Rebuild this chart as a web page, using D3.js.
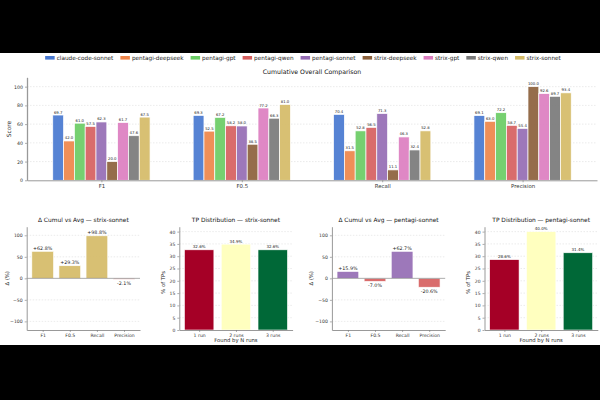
<!DOCTYPE html>
<html>
<head>
<meta charset="utf-8">
<script src="https://cdn.jsdelivr.net/npm/d3@7/dist/d3.min.js"></script>
<style>
  body { margin: 0; background: #000; }
  svg { display: block; }
  text { font-family: "DejaVu Sans", sans-serif; }
</style>
</head>
<body>
<div id="chart"></div>
<script>
// data
const models = ["claude-code-sonnet", "pentagi-deepseek", "pentagi-gpt", "pentagi-qwen",
  "pentagi-sonnet", "strix-deepseek", "strix-gpt", "strix-qwen", "strix-sonnet"];
const modelColors = ["#4878d0", "#ee854a", "#6acc64", "#d65f5f", "#956cb4",
  "#8c613c", "#dc7ec0", "#797979", "#d5bb67"];
const metrics = ["F1", "F0.5", "Recall", "Precision"];
const f1 = [69.7, 42.0, 61.0, 57.5, 62.3, 20.0, 61.7, 47.6, 67.5];
const f05 = [69.3, 52.5, 67.2, 58.2, 58.0, 38.5, 77.2, 66.3, 81.0];
const recall = [70.4, 31.5, 52.8, 56.5, 71.3, 11.1, 46.3, 32.4, 52.8];
const precision = [69.1, 63.0, 72.2, 58.7, 55.4, 100.0, 92.6, 89.7, 93.4];
const scoreTicks = [0, 20, 40, 60, 80, 100];

const deltaStrix = [62.8, 29.3, 98.8, -2.1];
const deltaPentagi = [15.9, -7.0, 62.7, -20.6];
const deltaTicks = [-100, -50, 0, 50, 100];

const runLabels = ["1 run", "2 runs", "3 runs"];
const tpStrix = [32.6, 34.9, 32.6];
const tpPentagi = [28.6, 40.0, 31.4];
const tpColors = ["#a50026", "#ffffbf", "#006837"];
const tpTicks = [0, 5, 10, 15, 20, 25, 30, 35, 40];

const svg = d3.select("#chart").append("svg")
  .attr("width", 600)
  .attr("height", 400);

svg.append("rect").attr("width", 600).attr("height", 400).attr("fill", "#000");
svg.append("rect").attr("y", 53).attr("width", 600).attr("height", 292).attr("fill", "#fff");

function styleAxis(g, size) {
  g.select(".domain").attr("stroke", "#999").attr("stroke-width", 1);
  g.selectAll(".tick line").attr("stroke", "#777").attr("stroke-width", 0.6);
  g.selectAll(".tick text").attr("fill", "#333").style("font-size", size + "px");
}

// ---- main grouped bar chart ----
const scores = [f1, f05, recall, precision];
const x0 = d3.scaleLinear().domain([-0.53, 3.53]).range([27, 597]);
const x1 = d3.scaleBand().domain(models).range([-0.3465, 0.3465]);
const y = d3.scaleLinear().domain([0, 110]).range([180.3, 77.3]);
const bw = x0(x1.bandwidth()) - x0(0);

svg.append("g").selectAll("line")
  .data(scoreTicks.slice(1))
  .enter().append("line")
  .attr("x1", 27).attr("x2", 597)
  .attr("y1", d => y(d)).attr("y2", d => y(d))
  .attr("stroke", "#ddd").attr("stroke-width", 0.6)
  .attr("stroke-dasharray", "1.5,1.5");

const groups = svg.append("g").selectAll("g")
  .data(scores)
  .enter().append("g");

groups.selectAll("rect")
  .data((vals, i) => vals.map((v, j) => ({ i, j, v })))
  .enter().append("rect")
  .attr("x", d => x0(d.i + x1(models[d.j])))
  .attr("y", d => y(d.v))
  .attr("width", bw)
  .attr("height", d => y(0) - y(d.v))
  .attr("fill", d => modelColors[d.j])
  .attr("fill-opacity", 0.92)
  .attr("stroke", "#fff")
  .attr("stroke-width", 0.7);

groups.selectAll("text")
  .data((vals, i) => vals.map((v, j) => ({ i, j, v })))
  .enter().append("text")
  .attr("x", d => x0(d.i + x1(models[d.j])) + bw / 2)
  .attr("y", d => y(d.v) - 1.5)
  .attr("text-anchor", "middle")
  .attr("fill", "#222")
  .style("font-size", "3.8px")
  .text(d => d.v.toFixed(1));

svg.append("g")
  .attr("transform", "translate(27,0)")
  .call(d3.axisLeft(y).tickValues(scoreTicks).tickSize(2).tickPadding(2).tickSizeOuter(0))
  .call(g => styleAxis(g, 4.7))
  .call(g => g.select(".domain").attr("stroke-width", 1.3));

svg.append("g")
  .attr("transform", "translate(0,180.3)")
  .call(d3.axisBottom(x0).tickValues([0, 1, 2, 3]).tickFormat(i => metrics[i])
    .tickSize(2).tickPadding(1.5).tickSizeOuter(0))
  .call(g => styleAxis(g, 5.4));

svg.append("text")
  .attr("transform", "translate(11,129) rotate(-90)")
  .attr("text-anchor", "middle")
  .attr("fill", "#222")
  .style("font-size", "5.8px")
  .text("Score");

svg.append("text")
  .attr("x", 312).attr("y", 73.5)
  .attr("text-anchor", "middle")
  .attr("fill", "#111")
  .style("font-size", "6.2px")
  .text("Cumulative Overall Comparison");

// legend
const legend = svg.append("g").attr("transform", "translate(0,58)");
const items = legend.selectAll("g")
  .data(models)
  .enter().append("g");
items.append("rect")
  .attr("y", -2).attr("width", 9.5).attr("height", 3.6)
  .attr("fill", (d, j) => modelColors[j]);
items.append("text")
  .attr("x", 11.5).attr("y", 2)
  .attr("fill", "#222")
  .style("font-size", "5.75px")
  .text(d => d);
let cursor = 0;
const offsets = [];
items.each(function () {
  offsets.push(cursor);
  cursor += 11.5 + this.querySelector("text").getComputedTextLength() + 7;
});
const legendStart = 303 - (cursor - 7) / 2;
items.attr("transform", (d, j) => `translate(${legendStart + offsets[j]},0)`);

// ---- bottom panels ----
const panelTop = 226.7, panelBottom = 330, panelW = 113.3;

function deltaPanel(left, values, posColor, title, labelX) {
  const g = svg.append("g");
  const x = d3.scaleLinear().domain([-0.59, 3.59]).range([left, left + panelW]);
  const yd = d3.scaleLinear().domain([-120, 120]).range([panelBottom, panelTop]);
  const w = x(0.8) - x(0);

  g.selectAll("line.grid")
    .data(deltaTicks.filter(t => t !== 0))
    .enter().append("line")
    .attr("x1", left).attr("x2", left + panelW)
    .attr("y1", d => yd(d)).attr("y2", d => yd(d))
    .attr("stroke", "#ddd").attr("stroke-width", 0.6)
    .attr("stroke-dasharray", "1.5,1.5");

  g.selectAll("rect")
    .data(values)
    .enter().append("rect")
    .attr("x", (d, i) => x(i) - w / 2)
    .attr("y", d => yd(Math.max(d, 0)))
    .attr("width", w)
    .attr("height", d => Math.abs(yd(d) - yd(0)))
    .attr("fill", d => d >= 0 ? posColor : "#d65f5f")
    .attr("fill-opacity", 0.92)
    .attr("stroke", "#fff")
    .attr("stroke-width", 0.6);

  g.append("line")
    .attr("x1", left).attr("x2", left + panelW)
    .attr("y1", yd(0)).attr("y2", yd(0))
    .attr("stroke", "#888").attr("stroke-width", 0.7);

  g.selectAll("text.val")
    .data(values)
    .enter().append("text")
    .attr("x", (d, i) => x(i))
    .attr("y", d => d >= 0 ? yd(d) - 1.5 : yd(d) + 5.5)
    .attr("text-anchor", "middle")
    .attr("fill", "#222")
    .style("font-size", "4.8px")
    .text(d => (d >= 0 ? "+" : "") + d.toFixed(1) + "%");

  g.append("g")
    .attr("transform", `translate(${left},0)`)
    .call(d3.axisLeft(yd).tickValues(deltaTicks).tickSize(2).tickPadding(2).tickSizeOuter(0))
    .call(a => styleAxis(a, 4.6));

  g.append("g")
    .attr("transform", `translate(0,${panelBottom})`)
    .call(d3.axisBottom(x).tickValues([0, 1, 2, 3]).tickFormat(i => metrics[i])
      .tickSize(2).tickPadding(1.5).tickSizeOuter(0))
    .call(a => styleAxis(a, 4.6));

  g.append("text")
    .attr("transform", `translate(${labelX},${(panelTop + panelBottom) / 2}) rotate(-90)`)
    .attr("text-anchor", "middle")
    .attr("fill", "#222")
    .style("font-size", "5.3px")
    .text("Δ (%)");

  g.append("text")
    .attr("x", left + panelW / 2).attr("y", 221.5)
    .attr("text-anchor", "middle")
    .attr("fill", "#111")
    .style("font-size", "5.9px")
    .text(title);
}

function tpPanel(left, values, title, labelX) {
  const g = svg.append("g");
  const x = d3.scaleLinear().domain([-0.54, 2.54]).range([left, left + panelW]);
  const yt = d3.scaleLinear().domain([0, 42]).range([panelBottom, panelTop]);
  const w = x(0.8) - x(0);

  g.selectAll("line.grid")
    .data(tpTicks.slice(1))
    .enter().append("line")
    .attr("x1", left).attr("x2", left + panelW)
    .attr("y1", d => yt(d)).attr("y2", d => yt(d))
    .attr("stroke", "#ddd").attr("stroke-width", 0.6)
    .attr("stroke-dasharray", "1.5,1.5");

  g.selectAll("rect")
    .data(values)
    .enter().append("rect")
    .attr("x", (d, i) => x(i) - w / 2)
    .attr("y", d => yt(d))
    .attr("width", w)
    .attr("height", d => yt(0) - yt(d))
    .attr("fill", (d, i) => tpColors[i])
    .attr("stroke", "#fff")
    .attr("stroke-width", 0.6);

  g.selectAll("text.val")
    .data(values)
    .enter().append("text")
    .attr("x", (d, i) => x(i))
    .attr("y", d => yt(d) - 1.5)
    .attr("text-anchor", "middle")
    .attr("fill", "#222")
    .style("font-size", "4px")
    .text(d => d.toFixed(1) + "%");

  g.append("g")
    .attr("transform", `translate(${left},0)`)
    .call(d3.axisLeft(yt).tickValues(tpTicks).tickSize(2).tickPadding(2).tickSizeOuter(0))
    .call(a => styleAxis(a, 4.5));

  g.append("g")
    .attr("transform", `translate(0,${panelBottom})`)
    .call(d3.axisBottom(x).tickValues([0, 1, 2]).tickFormat(i => runLabels[i])
      .tickSize(2).tickPadding(1.5).tickSizeOuter(0))
    .call(a => styleAxis(a, 4.6));

  g.append("text")
    .attr("transform", `translate(${labelX},${(panelTop + panelBottom) / 2 + 4}) rotate(-90)`)
    .attr("text-anchor", "middle")
    .attr("fill", "#222")
    .style("font-size", "5.3px")
    .text("% of TPs");

  g.append("text")
    .attr("x", left + panelW / 2).attr("y", 342)
    .attr("text-anchor", "middle")
    .attr("fill", "#222")
    .style("font-size", "5.3px")
    .text("Found by N runs");

  g.append("text")
    .attr("x", left + panelW / 2).attr("y", 221.5)
    .attr("text-anchor", "middle")
    .attr("fill", "#111")
    .style("font-size", "5.9px")
    .text(title);
}

deltaPanel(26.7, deltaStrix, "#d5bb67", "Δ Cumul vs Avg — strix-sonnet", 9);
tpPanel(179.3, tpStrix, "TP Distribution — strix-sonnet", 165);
deltaPanel(331.9, deltaPentagi, "#956cb4", "Δ Cumul vs Avg — pentagi-sonnet", 313);
tpPanel(484.5, tpPentagi, "TP Distribution — pentagi-sonnet", 470);
</script>
</body>
</html>
